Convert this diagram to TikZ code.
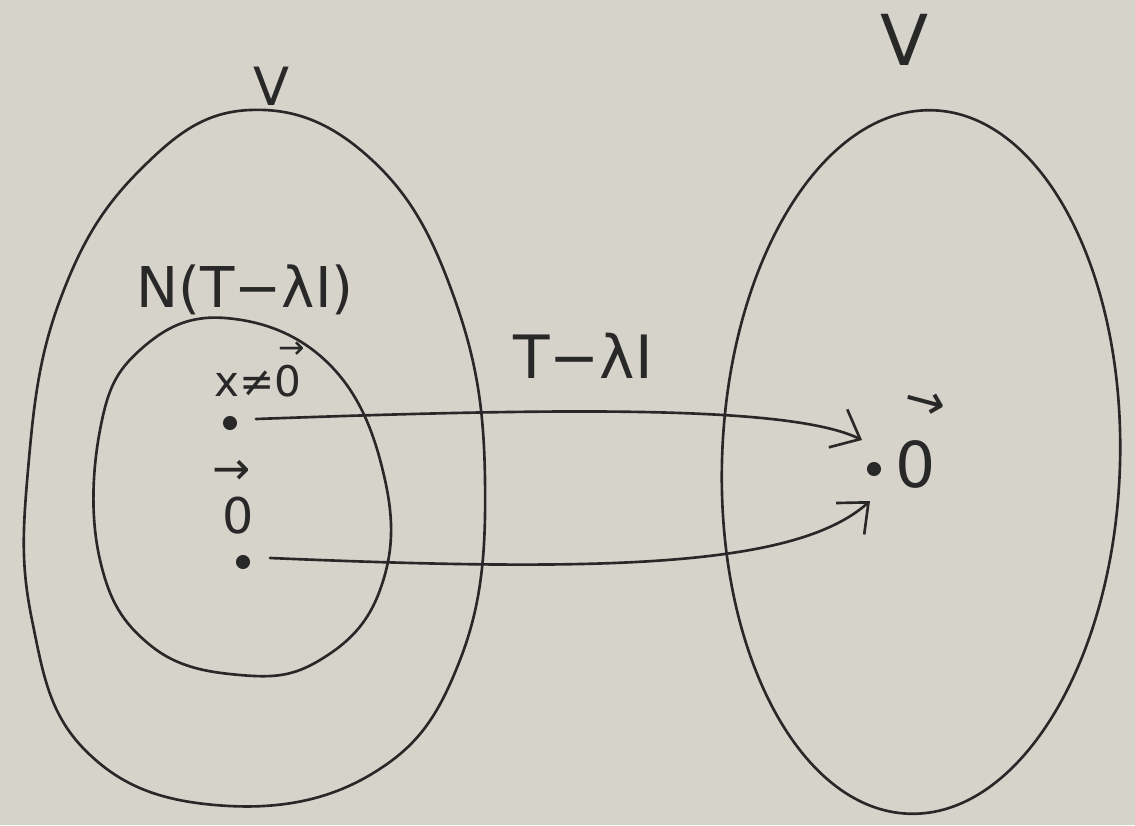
\documentclass[tikz,border=0pt]{standalone}
\usepackage{fontspec}
\setmainfont{DejaVu Sans}
\usetikzlibrary{arrows.meta}
\definecolor{paper}{RGB}{214,211,202}
\definecolor{ink}{RGB}{40,40,40}
\tikzset{
  pen/.style={draw=ink, line width=1.5pt, line cap=round, line join=round},
  lab/.style={text=ink, font=\fontsize{30}{34}\selectfont, inner sep=0pt},
  vecarrow/.style={text=ink, font=\fontsize{20}{22}\selectfont, inner sep=0pt},
  dot/.style={circle, fill=ink, inner sep=0pt, minimum size=8pt},
  maparrow/.style={pen, -{Straight Barb[length=14pt,width=24pt,line width=1.5pt]}}
}
\begin{document}
\begin{tikzpicture}[x=0.02cm,y=-0.02cm]
\fill[paper] (0,0) rectangle (1135,825);
\useasboundingbox (0,0) rectangle (1135,825);
% left outer set V
\draw[pen] plot[smooth cycle, tension=0.7] coordinates {(250,110) (372,160) (455,300) (485,480) (460,660) (370,775) (215,805) (85,750) (32,620) (28,470) (60,300) (140,170)};
% inner kernel
\draw[pen] plot[smooth cycle, tension=0.7] coordinates {(225,318) (330,365) (385,480) (380,590) (320,660) (240,675) (150,645) (100,560) (100,430) (140,350)};
% right set V
\draw[pen, rotate around={-2:(921,462)}] (921,462) ellipse [x radius=3.98cm, y radius=7.04cm];
% labels
\node[lab] (vl) at (272,86) {V};
\node[lab, font=\fontsize{40}{44}\selectfont] (vr) at (905,40) {V};
\node[lab, font=\fontsize{32}{36}\selectfont] (ker) at (245,290) {N(T−λI)};
\node[lab, font=\fontsize{34}{38}\selectfont] (map) at (583,356) {T−λI};
\node[lab, anchor=base, font=\fontsize{24}{28}\selectfont] (xne) at (258,396) {x≠0};
\node[vecarrow, font=\fontsize{18}{20}\selectfont] (xva) at (292,350) {→};
\node[lab, font=\fontsize{28}{32}\selectfont] (z1) at (238,516) {0};
\node[vecarrow, font=\fontsize{26}{28}\selectfont] (z1a) at (232,472) {→};
\node[lab, font=\fontsize{36}{40}\selectfont] (z2) at (916,464) {0};
\node[vecarrow, font=\fontsize{28}{30}\selectfont, rotate=-15] (z2a) at (925,404) {→};
% points
\node[dot] (px) at (230,423) {};
\node[dot] (p0) at (243,562) {};
\node[dot] (q0) at (874,469) {};
\coordinate (sx) at (256,419);
\coordinate (s0) at (270,558);
\coordinate (tx) at (862,440);
\coordinate (t0) at (870,501);
% arrows
\draw[maparrow] (sx) .. controls (560,408) and (790,405) .. (tx);
\draw[maparrow] (s0) .. controls (600,572) and (795,568) .. (t0);
\end{tikzpicture}
\end{document}
